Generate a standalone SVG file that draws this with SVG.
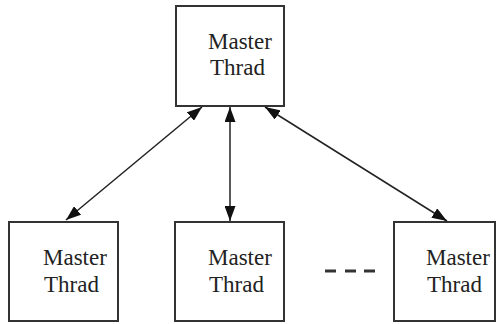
<svg xmlns="http://www.w3.org/2000/svg" width="496" height="324" viewBox="0 0 496 324">
<style>
.box{fill:#fff;stroke:#333;stroke-width:2}
.lbl{font-family:"Liberation Serif",serif;font-size:23px;fill:#222}
.con{stroke:#222;stroke-width:1.5;fill:none}
.dash{stroke:#333;stroke-width:3}
</style>
<defs>
<marker id="ah" viewBox="0 0 15 11" refX="15" refY="5.5" markerWidth="15" markerHeight="11" markerUnits="userSpaceOnUse" orient="auto-start-reverse">
<path d="M0,0 L15,5.5 L0,11 Z" fill="#111"/>
</marker>
</defs>
<rect width="496" height="324" fill="#fff"/>
<g id="top">
<rect class="box" x="176" y="6" width="108" height="100"/>
<text class="lbl" x="208" y="49">Master</text>
<text class="lbl" x="210" y="75">Thrad</text>
</g>
<g id="bl">
<rect class="box" x="9" y="222" width="109" height="99"/>
<text class="lbl" x="43" y="265">Master</text>
<text class="lbl" x="44" y="292">Thrad</text>
</g>
<g id="bm">
<rect class="box" x="175" y="222" width="109" height="99"/>
<text class="lbl" x="208" y="265">Master</text>
<text class="lbl" x="209" y="292">Thrad</text>
</g>
<g id="br">
<rect class="box" x="394" y="222" width="101" height="99"/>
<text class="lbl" x="426" y="265">Master</text>
<text class="lbl" x="427" y="292">Thrad</text>
</g>
<g id="connectors">
<line class="con" x1="202" y1="107" x2="66" y2="220" marker-start="url(#ah)" marker-end="url(#ah)"/>
<line class="con" x1="230" y1="107" x2="230" y2="221" marker-start="url(#ah)" marker-end="url(#ah)"/>
<line class="con" x1="265" y1="107" x2="447" y2="221" marker-start="url(#ah)" marker-end="url(#ah)"/>
</g>
<g id="ellipsis">
<line class="dash" x1="325" y1="271" x2="336" y2="271"/>
<line class="dash" x1="345" y1="271" x2="356" y2="271"/>
<line class="dash" x1="364" y1="271" x2="375" y2="271"/>
</g>
</svg>
